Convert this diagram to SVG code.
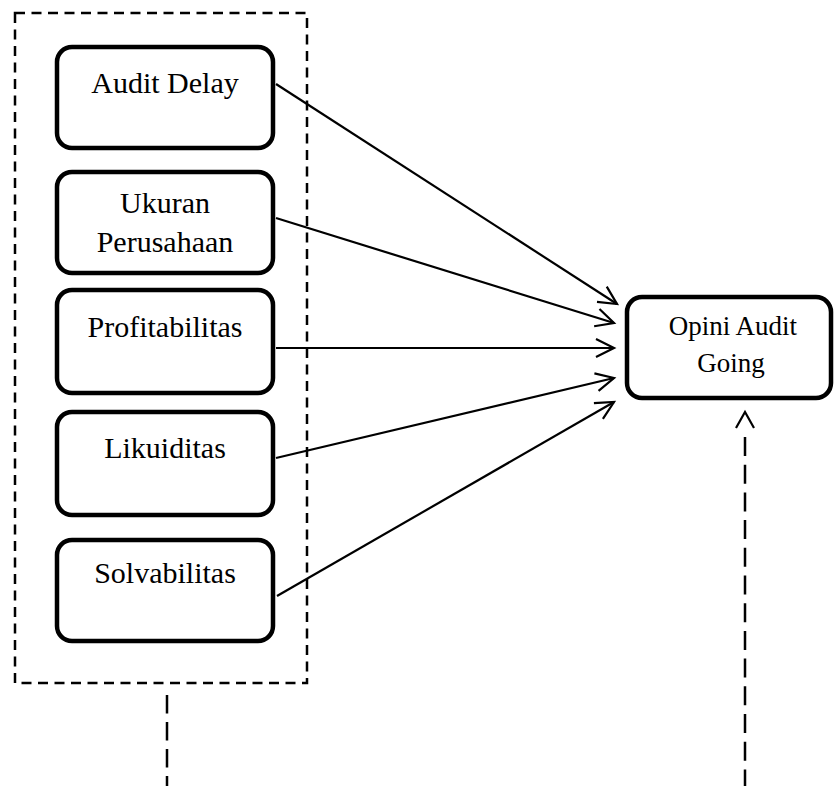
<svg xmlns="http://www.w3.org/2000/svg" width="835" height="786" viewBox="0 0 835 786">
<style>
.box{fill:#fff;stroke:#000;stroke-width:4.5}
.lbl{font-family:"Liberation Serif","Times New Roman",serif;font-size:30px;fill:#000;text-anchor:middle}
.lbl2{font-family:"Liberation Serif","Times New Roman",serif;font-size:27px;fill:#000;text-anchor:middle}
.con{stroke:#000;stroke-width:2.2;fill:none}
.dash{stroke:#000;stroke-width:2.5;fill:none}
</style>
<defs>
<marker id="arr" markerUnits="userSpaceOnUse" markerWidth="24" markerHeight="24" viewBox="-20 -12 24 24" refX="0" refY="0" orient="auto">
<path d="M-18,-9 L0,0 L-18,9" fill="none" stroke="#000" stroke-width="2.2"/>
</marker>
</defs>
<rect id="group-box" x="15" y="13" width="292" height="670" class="dash" stroke-dasharray="10 6.5"/>
<g id="audit-delay"><rect class="box" x="57" y="47" width="216" height="101" rx="15"/><text class="lbl" x="165" y="93">Audit Delay</text></g>
<g id="ukuran-perusahaan"><rect class="box" x="57" y="172" width="216" height="101" rx="15"/><text class="lbl" x="165" y="213">Ukuran</text><text class="lbl" x="165" y="252">Perusahaan</text></g>
<g id="profitabilitas"><rect class="box" x="57" y="290" width="216" height="103" rx="15"/><text class="lbl" x="165" y="337">Profitabilitas</text></g>
<g id="likuiditas"><rect class="box" x="57" y="412" width="216" height="103" rx="15"/><text class="lbl" x="165" y="458">Likuiditas</text></g>
<g id="solvabilitas"><rect class="box" x="57" y="540" width="216" height="101" rx="15"/><text class="lbl" x="165" y="583">Solvabilitas</text></g>
<g id="opini-audit-going"><rect class="box" x="627" y="297" width="204" height="101" rx="15"/><text class="lbl2" x="733" y="335">Opini Audit</text><text class="lbl2" x="731" y="372">Going</text></g>
<g id="connectors">
<line class="con" x1="276" y1="84" x2="617" y2="304" marker-end="url(#arr)"/>
<line class="con" x1="276" y1="218" x2="614" y2="323" marker-end="url(#arr)"/>
<line class="con" x1="276" y1="348" x2="614" y2="348" marker-end="url(#arr)"/>
<line class="con" x1="276" y1="458" x2="614" y2="378" marker-end="url(#arr)"/>
<line class="con" x1="277" y1="596" x2="614" y2="402" marker-end="url(#arr)"/>
<line class="dash" x1="167" y1="695" x2="167" y2="786" stroke-dasharray="18.5 8.5"/>
<line class="dash" x1="745" y1="437" x2="745" y2="786" stroke-dasharray="19 8.7"/>
<path class="con" d="M736,428 L745,412 L754,428"/>
</g>
</svg>
